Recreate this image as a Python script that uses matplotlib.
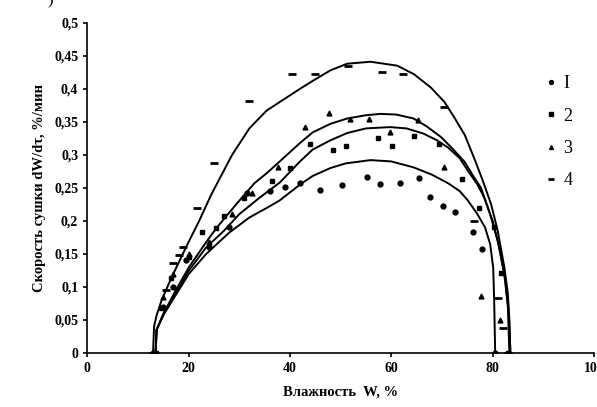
import matplotlib

matplotlib.use("Agg")
import matplotlib.pyplot as plt
from matplotlib.ticker import FuncFormatter

x1 = [13, 15, 17, 19.5, 24, 28, 31.5, 36, 39, 42, 46, 50.3, 55.3, 57.7,
      61.8, 65.4, 67.7, 70.2, 72.6, 76.1, 77.9, 80.5]
y1 = [0, 0.07, 0.10, 0.14, 0.16, 0.19, 0.242, 0.245, 0.251, 0.257, 0.246,
      0.254, 0.266, 0.256, 0.257, 0.265, 0.236, 0.222, 0.214, 0.183, 0.157, 0]

x2 = [13.5, 14.5, 16.5, 20, 22.7, 25.4, 27, 31, 36.4, 40, 43.9, 48.5, 51.1,
      57.3, 60.2, 64.4, 69.4, 74, 77.3, 80.3, 81.7, 83]
y2 = [0, 0.068, 0.113, 0.145, 0.183, 0.189, 0.208, 0.235, 0.261, 0.28, 0.317,
      0.307, 0.313, 0.326, 0.313, 0.328, 0.317, 0.264, 0.22, 0.19, 0.121, 0]

x3 = [13.5, 15, 17, 20, 24, 28.6, 32.6, 37.6, 43, 47.7, 51.9, 55.7, 59.8,
      65.2, 70.4, 77.7, 81.5, 83]
y3 = [0, 0.085, 0.12, 0.15, 0.168, 0.211, 0.242, 0.281, 0.342, 0.364, 0.355,
      0.355, 0.335, 0.353, 0.281, 0.086, 0.05, 0]

x4 = [13, 15.5, 17, 18.1, 19, 21.7, 25, 32, 40.4, 45, 51.5, 58.2, 62.4, 70.4,
      76.3, 81.1, 82.1, 83]
y4 = [0, 0.095, 0.136, 0.148, 0.16, 0.219, 0.287, 0.382, 0.423, 0.423, 0.435,
      0.425, 0.423, 0.372, 0.2, 0.083, 0.038, 0]

# fitted curves
cx1 = [13.5, 13.7, 15.1, 17.5, 20.1, 23.5, 28, 32, 36, 38, 42, 44.5, 48, 51,
       55.9, 60, 64.4, 68, 71.2, 73.5, 75.1, 77, 78.5, 79.5, 80.1, 80.3, 80.4, 80.5]
cy1 = [0, 0.035, 0.058, 0.088, 0.12, 0.15, 0.182, 0.205, 0.222, 0.231, 0.255,
       0.268, 0.28, 0.287, 0.292, 0.29, 0.281, 0.27, 0.257, 0.245, 0.231, 0.21,
       0.19, 0.165, 0.13, 0.08, 0.04, 0]

cx2 = [13.5, 13.7, 15.1, 17.5, 20.1, 23.5, 27, 30, 34, 38, 42, 44.5, 48, 51.3,
       55, 59.8, 63, 66.4, 69, 71.2, 73.5, 75.1, 77, 78.3, 80, 81.3, 82.5, 83.2, 83.5]
cy2 = [0, 0.035, 0.06, 0.09, 0.125, 0.16, 0.185, 0.21, 0.235, 0.258, 0.29,
       0.308, 0.322, 0.333, 0.34, 0.342, 0.34, 0.332, 0.322, 0.311, 0.295,
       0.276, 0.255, 0.236, 0.2, 0.16, 0.11, 0.06, 0]

cx3 = [13.5, 13.7, 15.1, 17.5, 20.1, 23.5, 25.6, 29.4, 33, 35.4, 38, 42, 44.5,
       48, 51.3, 55, 57.9, 61, 64.4, 67, 69.8, 72, 74.4, 76, 77.7, 79.5, 81,
       82.3, 83, 83.3]
cy3 = [0, 0.035, 0.06, 0.095, 0.13, 0.168, 0.19, 0.225, 0.257, 0.272, 0.29,
       0.318, 0.334, 0.347, 0.355, 0.36, 0.362, 0.361, 0.355, 0.343, 0.327,
       0.31, 0.29, 0.27, 0.25, 0.21, 0.17, 0.12, 0.07, 0]

cx4 = [13.0, 13.2, 13.7, 14.7, 16.7, 19.5, 22.1, 24.5, 28.6, 32, 35.4, 38, 42,
       44.5, 48, 51.3, 55.9, 61.2, 64.5, 67.8, 70.5, 72.4, 74.5, 76.3, 78,
       79.7, 81, 82.3, 83.0, 83.3, 83.5]
cy4 = [0, 0.04, 0.057, 0.08, 0.115, 0.16, 0.2, 0.24, 0.3, 0.34, 0.367, 0.38,
       0.4, 0.412, 0.428, 0.438, 0.441, 0.435, 0.422, 0.402, 0.38, 0.357, 0.33,
       0.296, 0.262, 0.225, 0.185, 0.13, 0.09, 0.05, 0]

labels = ["I", "2", "3", "4"]

serif = "Liberation Serif"

fig = plt.figure(figsize=(5.97, 4.07), dpi=100)
ax = fig.add_axes([0.146, 0.133, 0.849, 0.811])

for cx, cy in [(cx1, cy1), (cx2, cy2), (cx3, cy3), (cx4, cy4)]:
    ax.plot(cx, cy, color="black", lw=1.4, solid_joinstyle="round")

ax.plot(x1, y1, "o", ms=3.5, color="black", ls="none", label=labels[0])
ax.plot(x2, y2, "s", ms=3.5, color="black", ls="none", label=labels[1])
ax.plot(x3, y3, "^", ms=3.5, color="black", ls="none", label=labels[2])
ax.plot(x4, y4, "_", ms=6, mew=2, color="black", ls="none", label=labels[3])

ax.set_xlim(0, 100)
ax.set_ylim(0, 0.5)
ax.set_xticks(range(0, 101, 20))
ax.set_yticks([i * 0.05 for i in range(11)])
ax.yaxis.set_major_formatter(
    FuncFormatter(lambda v, p: "0" if v == 0 else f"{v:.2f}".rstrip("0").replace(".", ",")))
ax.spines["top"].set_visible(False)
ax.spines["right"].set_visible(False)
ax.spines["left"].set_linewidth(1.2)
ax.spines["bottom"].set_linewidth(1.2)
ax.tick_params(direction="out", length=3, width=1.2)
for t in ax.get_xticklabels() + ax.get_yticklabels():
    t.set_fontfamily(serif)
    t.set_fontweight("bold")
    t.set_fontsize(10)

ax.set_xlabel("Влажность  W, %", fontfamily=serif, fontweight="bold",
              fontsize=10.5, labelpad=8)
ax.set_ylabel("Скорость сушки dW/dτ, %/мин", fontfamily=serif,
              fontweight="bold", fontsize=10.5, labelpad=6)

ax.legend(loc="upper left", bbox_to_anchor=(0.875, 0.89), frameon=False,
          handlelength=0.5, handletextpad=0.4, labelspacing=0.85,
          markerscale=0.8, prop={"family": serif, "size": 13})

fig.text(0.08, 1.0, ")", fontsize=12, va="center", fontfamily=serif)

fig.savefig("out.png", dpi=100)
